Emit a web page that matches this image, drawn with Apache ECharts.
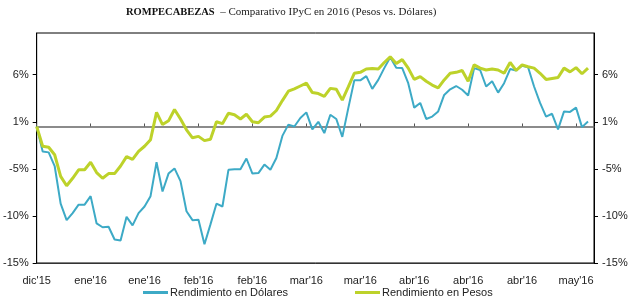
<!DOCTYPE html>
<html>
<head>
<meta charset="utf-8">
<script src="https://cdn.jsdelivr.net/npm/echarts@6/dist/echarts.min.js"></script>
<style>
  html, body { margin: 0; padding: 0; background: #fff; }
  #chart { width: 635px; height: 301px; }
</style>
</head>
<body>
<div id="chart"></div>
<script>
// x axis: one category per trading day, a label every 9th day
const xTickLabels = ["dic'15", "ene'16", "ene'16", "feb'16", "feb'16", "mar'16", "mar'16", "abr'16", "abr'16", "abr'16", "may'16"];
const dayCount = 94;

// y axis ticks sit on x.5 values, shown rounded
const yTickValues = [-14.5, -9.5, -4.5, 0.5, 5.5];
const yTickLabels = ["-15%", "-10%", "-5%", "1%", "6%"];

const dolares = [
  0, -2.65, -2.75, -4.2, -8.2, -9.95, -9.2, -8.3, -8.3, -7.4,
  -10.3, -10.7, -10.65, -12.0, -12.1, -9.6, -10.5, -9.2, -8.5, -7.4,
  -3.8, -6.9, -5.0, -4.45, -5.8, -9.0, -9.95, -9.9, -12.5, -10.4,
  -8.2, -8.5, -4.6, -4.55, -4.55, -3.4, -5.0, -4.95, -4.05, -4.6,
  -3.35, -1.0, 0.2, 0.0, 0.9, 1.5, -0.3, 0.5, -0.7, 1.25,
  0.8, -1.1, 1.95, 4.9, 4.9, 5.35, 4.0, 4.95, 6.2, 7.35,
  6.25, 6.2, 4.6, 2.0, 2.5, 0.8, 1.05, 1.6, 3.35, 3.95,
  4.3, 3.9, 3.3, 6.2, 6.0, 4.25, 4.8, 3.6, 4.6, 6.1,
  5.95, 6.45, 6.3, 4.25, 2.5, 1.05, 1.35, -0.3, 1.6, 1.55,
  2.0, -0.07, 0.53, null
];

const pesos = [
  0, -2.1, -2.2, -3.0, -5.3, -6.3, -5.5, -4.6, -4.6, -3.8,
  -4.9, -5.5, -5.0, -5.0, -4.2, -3.2, -3.5, -2.65, -2.1, -1.4,
  1.5, 0.2, 0.6, 1.8, 0.8, -0.35, -1.2, -1.05, -1.5, -1.35,
  0.5, 0.3, 1.4, 1.25, 0.8, 1.3, 0.5, 0.4, 1.0, 1.1,
  1.7, 2.75, 3.75, 4.0, 4.3, 4.6, 3.6, 3.5, 3.2, 4.05,
  3.95, 2.8, 4.2, 5.65, 5.75, 6.1, 6.15, 6.1, 6.8, 7.4,
  6.7, 7.1, 6.2, 5.0, 5.3, 4.8, 4.4, 4.1, 4.95, 5.65,
  5.75, 5.95, 4.8, 6.55, 6.2, 6.0, 6.1, 6.0, 5.65, 6.8,
  5.95, 6.55, 6.35, 6.2, 5.65, 5.0, 5.1, 5.2, 6.2, 5.8,
  6.25, 5.6, 6.2, null
];

const days = [];
for (let i = 0; i < dayCount; i++) days.push(i);

const labelFont = { fontFamily: "Liberation Sans, Arial", fontSize: 11, color: "#222" };

function yAxisDef(pos) {
  return {
    type: "value",
    position: pos,
    min: -14.5,
    max: 9.93,
    axisLine: { show: true, lineStyle: { color: "#000", width: 1 } },
    axisTick: { show: true, length: 4, customValues: yTickValues, lineStyle: { color: "#000" } },
    axisLabel: Object.assign({
      customValues: yTickValues,
      margin: 8,
      formatter: (v) => {
        const i = yTickValues.indexOf(v);
        return i >= 0 ? yTickLabels[i] : "";
      },
    }, labelFont),
    splitLine: { show: false },
  };
}

const chart = echarts.init(document.getElementById("chart"));
chart.setOption({
  animation: false,
  backgroundColor: "#fff",
  title: {
    text: "{b|ROMPECABEZAS}{n|  – Comparativo IPyC en 2016 (Pesos vs. Dólares)}",
    left: 126,
    top: 7,
    padding: 0,
    textStyle: {
      rich: {
        b: { fontFamily: "Liberation Serif", fontWeight: "bold", fontSize: 10.5, color: "#111" },
        n: { fontFamily: "Liberation Serif", fontWeight: "normal", fontSize: 11, color: "#222" },
      },
    },
  },
  grid: {
    left: 35, right: 41, top: 33, bottom: 38,
    show: true, borderColor: "#000", borderWidth: 1,
  },
  legend: {
    bottom: 3,
    left: 143,
    padding: 0,
    itemGap: 67,
    itemWidth: 25,
    itemHeight: 3,
    icon: "rect",
    textStyle: { fontFamily: "Liberation Sans, Arial", fontSize: 11, color: "#222", padding: [0, 0, 0, -3] },
    data: ["Rendimiento en Dólares", "Rendimiento en Pesos"],
  },
  xAxis: [
    {
      type: "category",
      data: days,
      boundaryGap: false,
      axisLine: { onZero: false, lineStyle: { color: "#333", width: 1 } },
      axisTick: { show: false },
      axisLabel: Object.assign({
        interval: 8,
        margin: 12,
        formatter: (v, idx) => xTickLabels[idx / 9] || "",
      }, labelFont),
    },
    {
      type: "category",
      data: days,
      boundaryGap: false,
      position: "bottom",
      axisLine: { onZero: true, onZeroAxisIndex: 0, lineStyle: { color: "#666", width: 1.5 } },
      axisTick: { show: true, inside: true, interval: 8, length: 3, lineStyle: { color: "#555" } },
      axisLabel: { show: false },
    },
  ],
  yAxis: [yAxisDef("left"), yAxisDef("right")],
  series: [
    {
      name: "Rendimiento en Dólares",
      type: "line",
      data: dolares,
      showSymbol: false,
      symbol: "none",
      color: "#3DAAC6",
      lineStyle: { width: 2, color: "#3DAAC6" },
    },
    {
      name: "Rendimiento en Pesos",
      type: "line",
      data: pesos,
      showSymbol: false,
      symbol: "none",
      color: "#BDD22A",
      lineStyle: { width: 3, color: "#BDD22A" },
    },
  ],
});
</script>
</body>
</html>
